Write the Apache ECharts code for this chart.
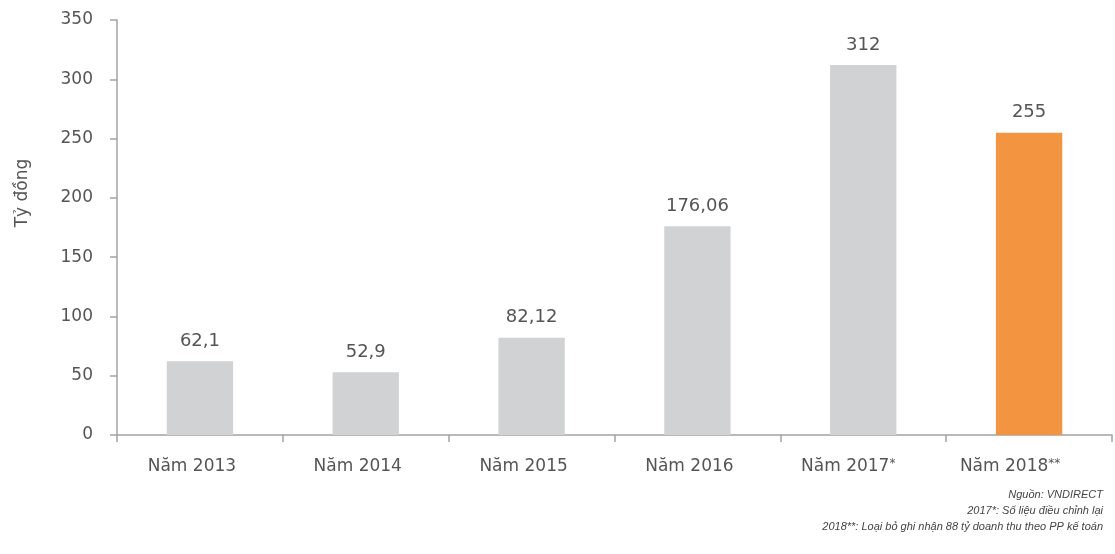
<!DOCTYPE html>
<html>
<head>
<meta charset="utf-8">
<script src="https://cdn.jsdelivr.net/npm/echarts@6/dist/echarts.min.js"></script>
<style>
html,body{margin:0;padding:0;background:#fff;}
#c{width:1115px;height:554px;}
</style>
</head>
<body>
<div id="c"></div>
<script>
const categories = ['Năm 2013','Năm 2014','Năm 2015','Năm 2016','Năm 2017*','Năm 2018**'];
const values = [62.1, 52.9, 82.12, 176.06, 312, 255];
const barColors = ['#d1d2d4','#d1d2d4','#d1d2d4','#d1d2d4','#d1d2d4','#f39441'];
const yTicks = [0, 350, 50];
const yAxisName = 'Tỷ đồng';
const footnotes = ['Nguồn: VNDIRECT', '2017*: Số liệu điều chỉnh lại', '2018**: Loại bỏ ghi nhận 88 tỷ doanh thu theo PP kế toán'];

const chart = echarts.init(document.getElementById('c'));
const font = '"DejaVu Sans", sans-serif';
const noteFont = '"Liberation Sans", Arial, sans-serif';

function xLabel(v) {
  const m = v.match(/^(.*?)(\**)$/);
  const stars = m[2].length;
  let s = '{a|' + m[1] + '}';
  if (stars) s += '{s|' + m[2] + '}';
  s += '{p' + stars + '|}';
  return s;
}

chart.setOption({
  animation: false,
  textStyle: {fontFamily: font},
  grid: {left: 117, right: 3, top: 20, bottom: 119, containLabel: false},
  xAxis: {
    type: 'category',
    data: categories,
    axisLine: {lineStyle: {color: '#a3a3a3', width: 1.5}},
    axisTick: {show: true, interval: 0, alignWithLabel: false, length: 7, lineStyle: {color: '#a3a3a3', width: 1.5}},
    axisLabel: {
      interval: 0,
      hideOverlap: false,
      color: '#555', fontSize: 17, margin: 23, fontFamily: font,
      formatter: xLabel,
      rich: {
        a: {color: '#555', fontSize: 17, fontFamily: font},
        s: {color: '#555', fontSize: 12, fontFamily: font, verticalAlign: 'top', padding: [0, 0, 6, 0]},
        p0: {width: 16},
        p1: {width: 30},
        p2: {width: 38}
      }
    }
  },
  yAxis: {
    type: 'value',
    min: yTicks[0], max: yTicks[1], interval: yTicks[2],
    axisLine: {show: true, lineStyle: {color: '#a3a3a3', width: 1.5}},
    axisTick: {show: true, length: 7, lineStyle: {color: '#a3a3a3', width: 1.5}},
    splitLine: {show: false},
    axisLabel: {color: '#555', fontSize: 17, margin: 24, fontFamily: font}
  },
  series: [{
    type: 'bar',
    barWidth: '40%',
    data: values.map((v, i) => ({value: v, itemStyle: {color: barColors[i]}})),
    label: {
      show: true,
      position: 'top',
      distance: 11,
      color: '#555',
      fontSize: 18,
      fontFamily: font,
      formatter: p => String(p.value).replace('.', ',')
    }
  }],
  graphic: [{
    type: 'text',
    x: 23, y: 193,
    rotation: Math.PI / 2,
    style: {text: yAxisName, fill: '#555', font: '17px ' + font, textAlign: 'center', textVerticalAlign: 'middle'}
  }].concat(footnotes.map((t, i) => ({
    type: 'text',
    right: 12,
    top: 489 + i * 16,
    style: {text: t, fill: '#444', font: 'italic 11px ' + noteFont, textAlign: 'right'}
  })))
});
</script>
</body>
</html>
